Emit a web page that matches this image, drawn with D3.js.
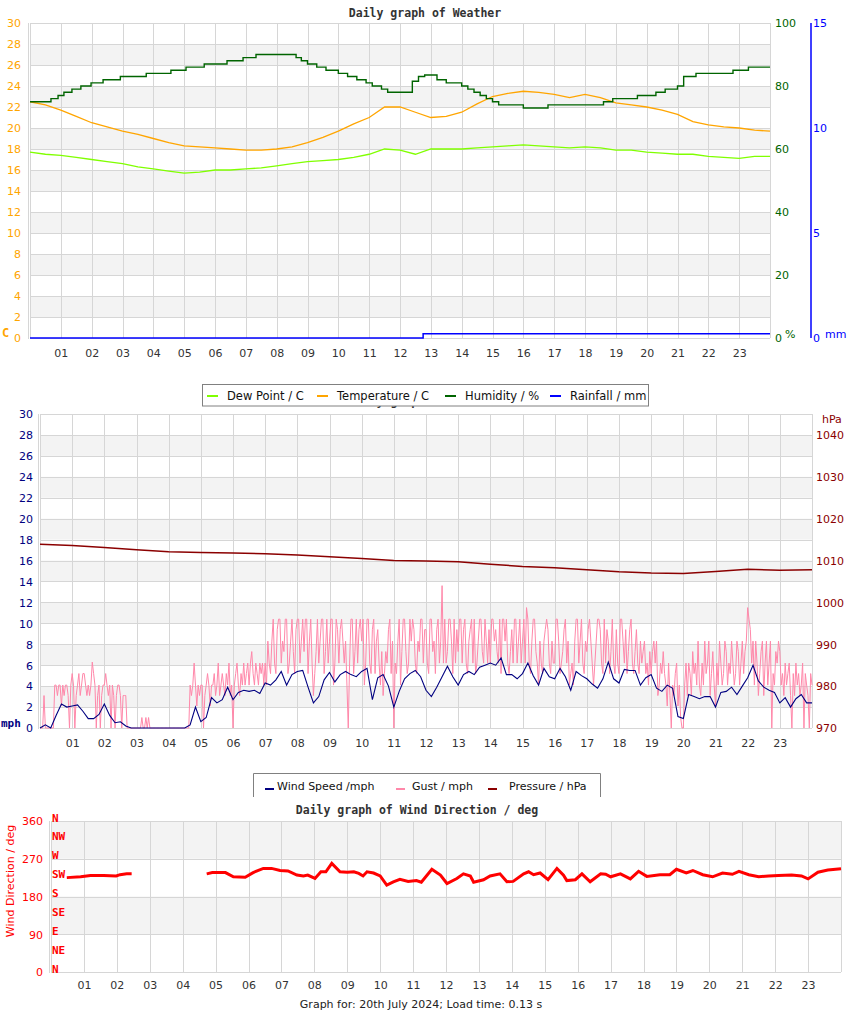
<!DOCTYPE html>
<html><head><meta charset="utf-8">
<script src="https://cdn.jsdelivr.net/npm/d3@7"></script>
<style>body{margin:0;background:#fff}svg{display:block}</style>
</head><body><svg id="c" width="850" height="1017"></svg>
<script>
// ---------------- DATA ----------------
const hourTicks = d3.range(1, 24); // labelled 01..23
// half-hourly, from 00:00 to 24:00
const temperatureC = [22.5,22.2,21.7,21.1,20.5,20.1,19.7,19.4,19.0,18.6,18.3,18.2,18.1,18.0,17.9,17.9,18.0,18.2,18.6,19.1,19.7,20.4,21.0,22.0,22.0,21.5,21.0,21.1,21.5,22.3,23.0,23.3,23.5,23.4,23.2,22.9,23.2,22.9,22.4,22.2,22.0,21.7,21.3,20.6,20.3,20.1,20.0,19.8,19.7];
const dewPointC = [17.7,17.5,17.4,17.2,17.0,16.8,16.6,16.3,16.1,15.9,15.7,15.8,16.0,16.0,16.1,16.2,16.4,16.6,16.8,16.9,17.0,17.2,17.5,18.0,17.9,17.5,18.0,18.0,18.0,18.1,18.2,18.3,18.4,18.3,18.2,18.1,18.2,18.1,17.9,17.9,17.7,17.6,17.5,17.5,17.3,17.2,17.1,17.3,17.3];
// humidity change points (step)
const humidityHours = [0,0.68,0.91,1.10,1.36,1.65,1.98,2.37,2.93,3.77,4.57,5.06,5.65,6.39,6.91,7.33,8.63,8.80,9.0,9.3,9.6,10.0,10.3,10.6,10.9,11.1,11.4,11.6,12.4,12.6,12.8,13.2,13.5,14.0,14.2,14.4,14.6,14.8,15.0,15.2,16.0,16.8,18.6,18.9,19.7,20.3,20.6,21.0,21.2,21.6,22.8,23.3,24];
const humidityPct = [75,76,77,78,79,80,81,82,83,84,85,86,87,88,89,90,89,88,87,86,85,84,83,82,81,80,79,78,81.5,83,83.5,82,81,80,79,78,77,76,75,74,73,74,75,76,77,78,79,80,83,84,85,86,86];
const rainHours = [0,12.75,24];
const rainMm = [0,0.2,0.2];

// wind speed, every 10 minutes
const windMph = [
0,0.3,0,1.2,2.3,2.0, 2.1,2.2,1.6,0.9,0.9,1.3, 2.3,1.2,0.5,0.6,0.2,0, 0,0,0,0,0,0,
0,0,0,0,0.3,2.0, 0.6,1.0,2.9,2.4,2.7,3.9, 2.7,3.4,3.6,3.5,3.6,3.3, 4.3,4.1,4.6,5.4,4.1,5.1,
5.4,5.5,3.9,2.4,3.0,4.6, 5.3,4.4,5.1,5.4,5.1,4.9, 5.4,5.7,2.7,4.8,5.1,4.0, 2.0,3.5,4.7,5.2,5.5,4.9,
3.6,3.0,3.9,4.9,5.9,4.9, 4.1,5.1,5.4,5.1,5.8,6.0, 6.2,6.0,6.7,5.1,5.1,4.7, 5.2,6.2,5.0,4.1,5.7,4.9,
4.7,5.7,4.9,3.6,5.4,5.0, 4.7,4.2,3.8,4.7,6.3,4.7, 4.3,5.6,5.5,5.5,4.1,4.8, 5.1,3.8,3.5,4.1,3.8,1.1,
0.9,3.2,3.0,2.8,3.0,3.0, 2.0,3.4,3.5,3.9,3.2,4.0, 4.8,6.0,4.5,3.9,3.6,3.4, 2.4,2.9,2.0,2.8,3.2,2.4,
2.4];
// gust, every 2.5 minutes (24 readings per hour)
const gustMph = [
0,0,0,3.1,0,0,0,0,0,0,0,4.1, 4.1,3.1,4.1,4.1,2.1,4.1,3.1,4.1,4.1,3.1,0,4.1,
5.2,4.1,0,3.1,4.1,5.2,3.1,4.1,5.2,5.2,4.1,3.1, 4.1,3.1,4.1,6.3,5.2,4.1,0,3.1,4.1,0,3.1,4.1,
4.1,5.2,4.1,3.1,4.1,0,4.1,3.1,0,3.1,4.1,4.1, 3.1,0,3.1,3.1,3.1,0,0,0,0,0,0,0,
0,0,0,0,1.0,0,0,1.0,0,1.0,0,0, 0,0,0,0,0,0,0,0,0,0,0,0,
0,0,0,0,0,0,0,0,0,0,0,0, 0,0,0,0,4.1,3.1,4.1,6.2,4.1,2.1,4.1,3.1,
4.1,4.1,0,3.1,4.1,5.2,4.1,2.1,4.1,4.1,5.2,3.1, 4.1,6.2,3.1,4.1,5.2,4.1,3.1,5.2,4.1,6.2,3.1,4.1,
0,4.1,5.2,6.2,4.1,3.1,5.2,4.1,6.2,4.1,5.2,6.2, 4.1,6.2,7.3,5.2,4.1,6.2,5.2,4.1,6.2,5.2,6.2,4.1,
6.2,4.1,8.3,6.2,5.2,8.3,10.4,6.2,5.2,9.4,10.4,10.4, 6.2,8.3,7.3,10.4,10.4,5.2,6.2,8.3,10.4,7.3,5.2,9.4,
10.4,10.4,6.2,8.3,10.4,7.3,10.4,10.4,5.2,8.3,10.4,6.2, 3.1,5.2,7.3,10.4,6.2,8.3,10.4,10.4,5.2,7.3,10.4,6.2,
8.3,10.4,10.4,4.1,6.2,10.4,9.4,6.2,9.4,10.4,8.3,6.2, 8.3,4.1,0,6.2,10.4,10.4,5.2,7.3,10.4,6.2,9.4,10.4,
8.3,10.4,4.1,6.2,10.4,10.4,6.2,5.2,9.4,10.4,5.2,8.3, 9.4,6.2,4.1,7.3,3.1,5.2,7.3,6.2,9.4,10.4,5.2,8.3,
0,6.2,5.2,8.3,10.4,4.1,7.3,10.4,10.4,7.3,5.2,6.2, 10.4,8.3,10.4,9.4,6.2,5.2,8.3,7.3,10.4,10.4,6.2,9.4,
9.4,6.2,5.2,10.4,10.4,7.3,8.3,5.2,9.4,10.4,6.2,8.3, 13.6,6.2,10.4,6.2,7.3,10.4,10.4,8.3,5.2,10.4,6.2,9.4,
7.3,10.4,10.4,6.2,9.4,10.4,6.2,5.2,8.3,9.4,10.4,6.2, 10.4,5.2,6.2,8.3,10.4,10.4,7.3,6.2,10.4,8.3,6.2,9.4,
6.2,10.4,10.4,8.3,9.4,7.3,6.2,10.4,5.2,10.4,10.4,8.3, 10.4,6.2,5.2,7.3,9.4,6.2,10.4,10.4,6.2,8.3,10.4,6.2,
8.3,10.4,6.2,11.5,10.4,6.2,5.2,8.3,10.4,10.4,7.3,6.2, 4.1,8.3,6.2,5.2,8.3,9.4,10.4,9.4,6.2,5.2,8.3,6.2,
6.2,10.4,10.4,8.3,5.2,6.2,7.3,9.4,10.4,6.2,8.3,4.1, 5.2,6.2,4.1,8.3,10.4,10.4,6.2,8.3,10.4,6.2,5.2,8.3,
7.3,9.4,10.4,8.3,6.2,4.1,6.2,8.3,10.4,10.4,9.4,6.2, 5.2,10.4,6.2,9.4,8.3,5.2,7.3,10.4,6.2,5.2,9.4,6.2,
5.2,10.4,10.4,8.3,6.2,9.4,5.2,7.3,9.4,10.4,6.2,5.2, 7.3,9.4,6.2,5.2,8.3,6.2,7.3,8.3,5.2,6.2,4.1,7.3,
5.2,7.3,8.3,6.2,8.3,3.1,4.1,6.2,5.2,7.3,5.2,4.1, 2.1,6.2,3.1,0,4.1,3.1,5.2,6.2,2.1,4.1,1.0,0,
0,4.1,6.2,3.1,6.2,5.2,3.1,7.3,5.2,6.2,4.1,8.3, 4.1,3.1,6.2,4.1,8.3,5.2,6.2,8.3,3.1,5.2,7.3,4.1,
2.1,6.2,4.1,8.3,6.2,4.1,5.2,8.3,7.3,4.1,6.2,5.2, 8.3,6.2,4.1,5.2,8.3,7.3,4.1,6.2,8.3,5.2,7.3,8.3,
11.5,10.4,9.4,6.2,8.3,4.1,8.3,6.2,3.1,5.2,7.3,8.3, 3.1,6.2,8.3,4.1,6.2,8.3,0,5.2,4.1,7.3,6.2,8.3,
7.3,4.1,5.2,3.1,6.2,4.1,5.2,6.2,3.1,0,5.2,3.1, 6.2,4.1,5.2,3.1,4.1,6.2,0,5.2,4.1,3.1,0,5.2,
4.1];
// pressure, hourly
const pressureHpa = [1013.9,1013.6,1013.1,1012.6,1012.1,1011.9,1011.8,1011.6,1011.3,1010.9,1010.5,1010.0,1009.9,1009.7,1009.1,1008.6,1008.3,1007.8,1007.3,1007.0,1006.9,1007.4,1007.9,1007.7,1007.8];
// wind direction (null = no reading)
const dirHours = [0.48,0.9,1.2,1.6,1.98,2.1,2.3,2.45,3.5,4.73,4.9,5.3,5.54,5.9,6.14,6.45,6.7,6.96,7.2,7.47,7.67,7.8,8.02,8.2,8.35,8.53,8.78,9.0,9.2,9.35,9.48,9.6,9.8,10.0,10.2,10.4,10.6,10.85,11.1,11.25,11.57,11.83,12.03,12.33,12.53,12.74,12.84,13.14,13.34,13.64,13.85,14.04,14.36,14.51,14.66,14.86,15.1,15.37,15.57,15.67,15.93,16.13,16.38,16.7,16.85,17.0,17.3,17.6,17.85,18.1,18.5,18.8,19.0,19.3,19.5,19.8,20.1,20.4,20.7,20.9,21.2,21.5,21.8,22.1,22.5,22.8,23.0,23.3,23.6,24.0];
const dirDeg = [225,227,230,230,229,232,234,234,null,234,237,237,227,226,237,247,247,242,241,231,229,231,223,239,239,259,239,238,239,235,229,239,236,229,207,215,221,216,218,214,245,231,211,223,234,229,214,220,229,234,215,216,234,239,232,236,220,247,231,218,220,234,215,234,233,227,234,222,240,228,232,232,245,236,242,232,227,236,233,240,232,227,229,230,231,229,222,238,243,246];
const compass = ["N","NE","E","SE","S","SW","W","NW","N"];

// ---------------- DRAWING ----------------
const svg = d3.select("#c");
const F = "DejaVu Sans, Verdana, sans-serif";
const FM = "DejaVu Sans Mono, monospace";
const GRID = "#d6d6d6", BAND = "#f3f3f3";

function panel(xs, ys, step, isGray) {
  const [x0, x1] = xs.range();
  const [yb, yt] = ys.range();
  const dom = ys.domain();
  const g = svg.append("g");
  const vals = d3.range(dom[0], dom[1], step);
  g.selectAll("rect").data(vals.filter(isGray)).join("rect")
    .attr("x", x0).attr("width", x1 - x0)
    .attr("y", d => ys(d + step)).attr("height", d => ys(d) - ys(d + step))
    .attr("fill", BAND);
  g.selectAll("line.h").data(vals.concat([dom[1]])).join("line").attr("class","h")
    .attr("x1", x0).attr("x2", x1).attr("y1", d => Math.round(ys(d)) + 0.5).attr("y2", d => Math.round(ys(d)) + 0.5)
    .attr("stroke", GRID);
  g.selectAll("line.v").data(hourTicks).join("line").attr("class","v")
    .attr("x1", d => Math.round(xs(d)) + 0.5).attr("x2", d => Math.round(xs(d)) + 0.5)
    .attr("y1", yt).attr("y2", yb).attr("stroke", GRID);
  g.append("line").attr("x1", x1 + 0.5).attr("x2", x1 + 0.5).attr("y1", yt).attr("y2", yb).attr("stroke", GRID);
  g.append("line").attr("x1", x0 - 1.5).attr("x2", x0 - 1.5).attr("y1", yt).attr("y2", yb + 1).attr("stroke", GRID);
  g.append("line").attr("x1", x0 + 0.5).attr("x2", x0 + 0.5).attr("y1", yt).attr("y2", yb).attr("stroke", GRID);
  return g;
}
function xLabels(xs, y) {
  const a = svg.append("g").attr("transform", `translate(0,${y})`)
    .call(d3.axisBottom(xs).tickValues(hourTicks).tickFormat(d3.format("02d")).tickSize(0).tickPadding(0));
  a.select(".domain").remove();
  a.selectAll("text").attr("font-family", F).attr("font-size", 11).attr("fill", "#333").attr("dy", "0.35em").attr("y", 0);
}
function yLabels(ys, x, ticks, color, side, fmt) {
  const ax = side === "left" ? d3.axisLeft(ys) : d3.axisRight(ys);
  const a = svg.append("g").attr("transform", `translate(${x},0)`)
    .call(ax.tickValues(ticks).tickFormat(fmt || d3.format("d")).tickSize(0).tickPadding(0));
  a.select(".domain").remove();
  a.selectAll("text").attr("font-family", F).attr("font-size", 11).attr("fill", color).attr("dy", "0.35em");
  return a;
}
function txt(x, y, s, o) {
  const t = svg.append("text").attr("x", x).attr("y", y).text(s)
    .attr("font-family", o.f || F).attr("font-size", o.s || 11).attr("fill", o.c || "#333")
    .attr("text-anchor", o.a || "start").attr("dominant-baseline", "central");
  if (o.w) t.attr("font-weight", o.w);
  return t;
}

// ===== Chart 1: weather =====
const x1s = d3.scaleLinear([0, 24], [30, 770]);
const yT = d3.scaleLinear([0, 30], [338, 23]);
const yH = d3.scaleLinear([0, 100], [338, 23]);
const yR = d3.scaleLinear([0, 15], [338, 23]);
panel(x1s, yT, 2, d => d % 4 === 2);
txt(425, 13, "Daily graph of Weather", {f: FM, s: 11.5, w: "bold", c: "#333", a: "middle"});
yLabels(yT, 21, d3.range(0, 31, 2), "#ffa500", "left");
yLabels(yH, 775, d3.range(0, 101, 20), "#006400", "right");
yLabels(yR, 813, [0, 5, 10, 15], "#0000ff", "right");
svg.append("line").attr("x1", 811).attr("x2", 811).attr("y1", 23).attr("y2", 338).attr("stroke", "#0000ff").attr("stroke-width", 1.5);
txt(2, 333, "C", {f: FM, w: "bold", c: "#ffa500", s: 12});
txt(785, 334, "%", {c: "#006400", s: 11});
txt(825, 334, "mm", {c: "#0000ff", s: 11});
xLabels(x1s, 353);

const lineT = d3.line().x((d, i) => x1s(i / 2)).y(d => yT(d));
svg.append("path").attr("d", lineT(dewPointC)).attr("fill", "none").attr("stroke", "#80ff00").attr("stroke-width", 1.3);
svg.append("path").attr("d", lineT(temperatureC)).attr("fill", "none").attr("stroke", "#ffa500").attr("stroke-width", 1.3);
const lineH = d3.line().x((d, i) => x1s(humidityHours[i])).y(d => yH(d)).curve(d3.curveStepAfter);
svg.append("path").attr("d", lineH(humidityPct)).attr("fill", "none").attr("stroke", "#006400").attr("stroke-width", 1.4);
const lineR = d3.line().x((d, i) => x1s(rainHours[i])).y(d => yR(d)).curve(d3.curveStepAfter);
svg.append("path").attr("d", lineR(rainMm)).attr("fill", "none").attr("stroke", "#0000ff").attr("stroke-width", 1.5);

// ===== Chart 2: wind & pressure =====
const x2s = d3.scaleLinear([0, 24], [40, 812]);
const yW = d3.scaleLinear([0, 30], [728, 414]);
const yP = d3.scaleLinear([970, 1045], [728, 414]);
panel(x2s, yW, 2, d => d % 4 === 2);
// chart 2 title: hidden behind legend 1, only descenders peek out (as in the reference)
svg.append("defs").append("clipPath").attr("id", "t2clip")
  .append("rect").attr("x", 300).attr("y", 406).attr("width", 250).attr("height", 8);
txt(349, 401, "Daily graph of Wind", {f: FM, s: 11.5, w: "bold", c: "#333"}).attr("clip-path", "url(#t2clip)");
yLabels(yW, 33, d3.range(0, 31, 2), "#000080", "left");
yLabels(yP, 816, d3.range(970, 1041, 10), "#8b0000", "right");
txt(1, 723, "mph", {f: FM, w: "bold", c: "#000080", s: 11});
txt(822, 419, "hPa", {c: "#8b0000", s: 11});
xLabels(x2s, 743);

svg.append("path").attr("d", d3.line().x((d, i) => x2s(i / 24)).y(d => yW(d))(gustMph))
  .attr("fill", "none").attr("stroke", "#ff88aa").attr("stroke-width", 1);
svg.append("path").attr("d", d3.line().x((d, i) => x2s(i / 6)).y(d => yW(d))(windMph))
  .attr("fill", "none").attr("stroke", "#000080").attr("stroke-width", 1.1);
svg.append("path").attr("d", d3.line().x((d, i) => x2s(i)).y(d => yP(d))(pressureHpa))
  .attr("fill", "none").attr("stroke", "#8b0000").attr("stroke-width", 1.5);

// legend 1 (drawn over the chart 2 title)
const L1 = svg.append("g");
L1.append("rect").attr("x", 202.5).attr("y", 384.5).attr("width", 446).attr("height", 21.5).attr("fill", "#fff").attr("stroke", "#808080");
const leg1 = [["Dew Point / C", "#80ff00", 207, 227], ["Temperature / C", "#ffa500", 317, 337], ["Humidity / %", "#006400", 445, 465], ["Rainfall / mm", "#0000ff", 550, 570]];
leg1.forEach(([s, c, sx, tx]) => {
  L1.append("line").attr("x1", sx).attr("x2", sx + 11).attr("y1", 396).attr("y2", 396).attr("stroke", c).attr("stroke-width", 2);
  txt(tx, 395.5, s, {c: "#111", s: 11.5});
});

// legend 2
const L2 = svg.append("g");
L2.append("path").attr("d", "M253.5,797V773.5H600.5V797").attr("fill", "none").attr("stroke", "#808080");
const leg2 = [["Wind Speed /mph", "#000080", 265, 277], ["Gust / mph", "#ff88aa", 396, 412], ["Pressure / hPa", "#8b0000", 488, 509]];
leg2.forEach(([s, c, sx, tx]) => {
  L2.append("line").attr("x1", sx).attr("x2", sx + 9).attr("y1", 789).attr("y2", 789).attr("stroke", c).attr("stroke-width", 2);
  txt(tx, 786.5, s, {c: "#111", s: 11});
});

// ===== Chart 3: wind direction =====
const x3s = d3.scaleLinear([0, 24], [51, 841]);
const yD = d3.scaleLinear([0, 360], [972, 821]);
panel(x3s, yD, 90, d => d === 90 || d === 270);
txt(417, 810, "Daily graph of Wind Direction / deg", {f: FM, s: 11.5, w: "bold", c: "#333", a: "middle"});
yLabels(yD, 43, [0, 90, 180, 270, 360], "#ff0000", "left");
svg.append("g").selectAll("text").data(compass).join("text")
  .attr("x", 52).attr("y", (d, i) => yD(i * 45) - 3).text(d => d)
  .attr("font-family", FM).attr("font-weight", "bold").attr("font-size", 11).attr("fill", "#ff0000").attr("dominant-baseline", "central");
svg.append("text").attr("transform", "translate(10,881) rotate(-90)").text("Wind Direction / deg")
  .attr("font-family", F).attr("font-size", 11).attr("fill", "#ff0000").attr("text-anchor", "middle").attr("dominant-baseline", "central");
xLabels(x3s, 985);
svg.append("path").attr("d", d3.line().defined(d => d !== null).x((d, i) => x3s(dirHours[i])).y(d => yD(d))(dirDeg))
  .attr("fill", "none").attr("stroke", "#ff0000").attr("stroke-width", 3);

txt(421, 1004, "Graph for: 20th July 2024; Load time: 0.13 s", {c: "#222", s: 11, a: "middle"});
</script></body></html>
